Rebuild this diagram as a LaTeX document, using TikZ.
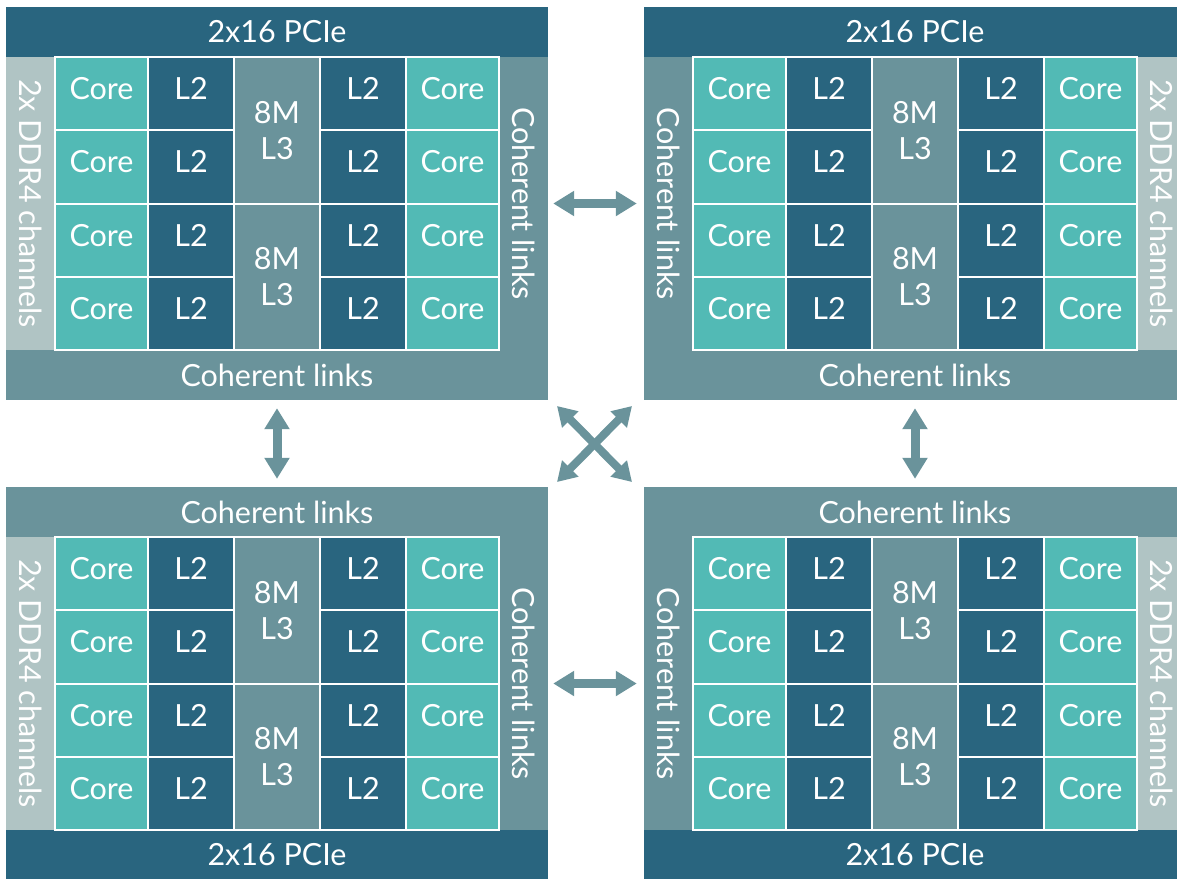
\documentclass[tikz,border=0pt]{standalone}
\usepackage{fontspec}
\setmainfont{Lato}
\usetikzlibrary{arrows.meta}
\definecolor{pciecol}{HTML}{29657F}
\definecolor{corecol}{HTML}{52BAB5}
\definecolor{linkcol}{HTML}{6A939B}
\definecolor{ddrcol}{HTML}{B0C4C4}
\tikzset{
  cell/.style={draw=white,line width=2pt,text=white,inner sep=0pt,minimum height=73.25pt},
  core/.style={cell,fill=corecol,minimum width=93pt,text depth=10pt},
  ltwo/.style={cell,fill=pciecol,minimum width=86pt,text depth=10pt},
  lthree/.style={cell,fill=linkcol,minimum width=86pt,minimum height=146.5pt,align=center},
  bar/.style={text=white,inner sep=0pt},
  pciebar/.style={bar,fill=pciecol,minimum width=542pt,minimum height=50pt},
  linkbar/.style={bar,fill=linkcol,minimum width=542pt,minimum height=50pt},
  sidelink/.style={bar,fill=linkcol,rotate=-90,minimum width=293pt,minimum height=49pt},
  sideddr/.style={bar,fill=ddrcol,rotate=-90,minimum width=293pt,minimum height=49pt},
  link/.style={linkcol,line width=9pt,{Triangle[width=24pt,length=21pt]}-{Triangle[width=24pt,length=21pt]}},
  xlink/.style={linkcol,line width=8pt,{Triangle[width=22pt,length=19pt]}-{Triangle[width=22pt,length=19pt]}},
}
% the 4x5 block of cores and caches of one die
\newcommand\coregrid[1]{%
  \foreach \r in {0,...,3}{
    \node[core] (#1c\r) at (95.5,86.625+73.25*\r) {Core};
    \node[ltwo] (#1l\r) at (185,86.625+73.25*\r) {L2};
    \node[ltwo] (#1m\r) at (357,86.625+73.25*\r) {L2};
    \node[core] (#1d\r) at (446.5,86.625+73.25*\r) {Core};
  }
  \node[lthree] (#1ua) at (271,123.25) {8M\\L3};
  \node[lthree] (#1ub) at (271,269.75) {8M\\L3};
}
\begin{document}
\begin{tikzpicture}[x=1pt,y=-1pt,font=\fontsize{30.5}{36}\selectfont]
\useasboundingbox (0,0) rectangle (1177,878);

% top left die
\begin{scope}[shift={(6,7)}]
  \node[pciebar] (tlt) at (271,25) {2x16 PCIe};
  \node[linkbar] (tlb) at (271,368) {Coherent links};
  \node[sideddr] (tll) at (24.5,196.5) {2x DDR4 channels};
  \node[sidelink] (tlr) at (517.5,196.5) {Coherent links};
  \coregrid{tl}
\end{scope}

% top right die
\begin{scope}[shift={(644,7)}]
  \node[pciebar] (trt) at (271,25) {2x16 PCIe};
  \node[linkbar] (trb) at (271,368) {Coherent links};
  \node[sidelink] (trl) at (24.5,196.5) {Coherent links};
  \node[sideddr] (trr) at (517.5,196.5) {2x DDR4 channels};
  \coregrid{tr}
\end{scope}

% bottom left die
\begin{scope}[shift={(6,487)}]
  \node[linkbar] (blt) at (271,25) {Coherent links};
  \node[pciebar] (blb) at (271,368) {2x16 PCIe};
  \node[sideddr] (bll) at (24.5,196.5) {2x DDR4 channels};
  \node[sidelink] (blr) at (517.5,196.5) {Coherent links};
  \coregrid{bl}
\end{scope}

% bottom right die
\begin{scope}[shift={(644,487)}]
  \node[linkbar] (brt) at (271,25) {Coherent links};
  \node[pciebar] (brb) at (271,368) {2x16 PCIe};
  \node[sidelink] (brl) at (24.5,196.5) {Coherent links};
  \node[sideddr] (brr) at (517.5,196.5) {2x DDR4 channels};
  \coregrid{br}
\end{scope}

% links between the dies
\draw[link,shorten <=5pt,shorten >=7pt] (tlr) -- (trl);
\draw[link,shorten <=5pt,shorten >=7pt] (blr) -- (brl);
\draw[link,shorten <=8pt,shorten >=8pt] (tlb.south) -- (blt.north);
\draw[link,shorten <=8pt,shorten >=8pt] (trb.south) -- (brt.north);

\coordinate (xa) at (557,406);
\coordinate (xb) at (632,406);
\coordinate (xc) at (557,482);
\coordinate (xd) at (632,482);
\draw[xlink] (xa) -- (xd);
\draw[xlink] (xb) -- (xc);
\end{tikzpicture}
\end{document}
